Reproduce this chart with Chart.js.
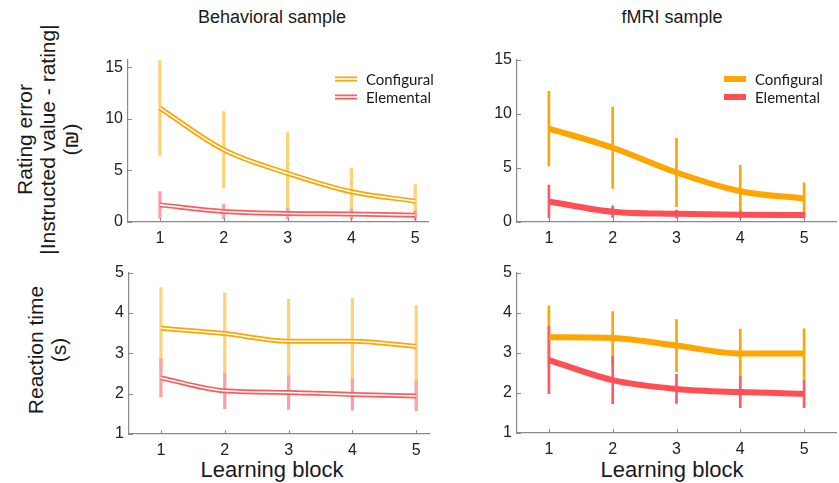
<!DOCTYPE html>
<html><head><meta charset="utf-8">
<script src="https://cdn.jsdelivr.net/npm/chart.js@4.4.0/dist/chart.umd.min.js"></script>
<style>
body{margin:0;background:#fff;width:839px;height:483px;position:relative;overflow:hidden;font-family:"Liberation Sans",Arial,sans-serif;color:#1a1a1a}
canvas{position:absolute}
.t{position:absolute;white-space:nowrap;text-align:center}
.yl{position:absolute;white-space:nowrap;text-align:center;transform:rotate(-90deg);transform-origin:center center;font-size:21px;line-height:23px}
</style></head><body>
<div class="t" style="left:172px;top:7px;width:200px;font-size:18px">Behavioral sample</div>
<div class="t" style="left:572px;top:7px;width:200px;font-size:18px">fMRI sample</div>
<div class="t" style="left:172px;top:457px;width:200px;font-size:22px">Learning block</div>
<div class="t" style="left:572px;top:457px;width:200px;font-size:22px">Learning block</div>
<div class="yl" style="left:-103px;top:105px;width:300px;height:69px">Rating error<br>|Instructed value - rating|<br>(₪)</div>
<div class="yl" style="left:-103px;top:327px;width:300px;height:46px">Reaction time<br>(s)</div>
<canvas id="c1" width="355" height="207" style="left:80px;top:45px"></canvas>
<canvas id="c2" width="370" height="207" style="left:469px;top:45px"></canvas>
<canvas id="c3" width="355" height="207" style="left:80px;top:258px"></canvas>
<canvas id="c4" width="370" height="207" style="left:469px;top:258px"></canvas>
<script>
// ---- data ----
const blocks = [1, 2, 3, 4, 5];
const seriesNames = ["Configural", "Elemental"];
const ratingTicks = [0, 5, 10, 15];
const rtTicks = [1, 2, 3, 4, 5];

const behavRatingConfMean = [11.05, 7.0, 4.72, 2.93, 2.02];
const behavRatingConfErr  = [4.6, 3.7, 3.95, 2.3, 1.6];
const behavRatingElemMean = [1.66, 1.02, 0.83, 0.78, 0.66];
const behavRatingElemErr  = [1.3, 0.7, 0.5, 0.5, 0.45];

const fmriRatingConfMean = [8.63, 6.86, 4.57, 2.84, 2.16];
const fmriRatingConfErr  = [3.45, 3.75, 3.15, 2.4, 1.45];
const fmriRatingElemMean = [1.9, 0.95, 0.76, 0.67, 0.64];
const fmriRatingElemErr  = [1.5, 0.55, 0.35, 0.33, 0.28];

const behavRtConfMean = [3.62, 3.49, 3.30, 3.30, 3.17];
const behavRtConfErr  = [1.01, 1.0, 1.04, 1.06, 1.01];
const behavRtElemMean = [2.39, 2.07, 2.03, 1.98, 1.94];
const behavRtElemErr  = [0.48, 0.44, 0.42, 0.39, 0.37];

const fmriRtConfMean = [3.39, 3.37, 3.18, 2.98, 2.98];
const fmriRtConfErr  = [0.78, 0.66, 0.65, 0.61, 0.62];
const fmriRtElemMean = [2.82, 2.32, 2.10, 2.02, 1.98];
const fmriRtElemErr  = [0.84, 0.59, 0.36, 0.39, 0.35];

// ---- styles ----
const FONT = '"Liberation Sans", Arial, sans-serif';
const ORANGE = '#FFA500';
const RED_B = '#FF5A5A';
const RED_F = '#FF4F55';
const styleB = {conf:{line:ORANGE, err:'#FFD27A', w:5, double:true, ew:2.6},
                elem:{line:RED_B, err:'#FFA0A4', w:5, double:true, ew:2.6}};
const styleF = {conf:{line:ORANGE, err:ORANGE, w:6, double:false, ew:2},
                elem:{line:RED_F, err:'#FF5A60', w:6, double:false, ew:2}};

function lineData(mean){ return blocks.map((b,i)=>({x:b, y:mean[i]})); }
function errData(mean, err){ return blocks.map((b,i)=>({x:b, y:[mean[i]-err[i], mean[i]+err[i]]})); }

function buildDatasets(confMean, confErr, elemMean, elemErr, st){
  const ds = [];
  let order = 0;
  const lineDs = (data, color, w) => ({type:'line', data, borderColor:color, borderWidth:w,
      pointRadius:0, fill:false, cubicInterpolationMode:'monotone', order: order++});
  if (st.conf.double) ds.push(lineDs(lineData(confMean), '#ffffff', 1.6));
  ds.push(Object.assign(lineDs(lineData(confMean), st.conf.line, st.conf.w), {label:seriesNames[0]}));
  if (st.elem.double) ds.push(lineDs(lineData(elemMean), '#ffffff', 1.6));
  ds.push(Object.assign(lineDs(lineData(elemMean), st.elem.line, st.elem.w), {label:seriesNames[1]}));
  ds.push({type:'bar', data:errData(elemMean, elemErr), backgroundColor:st.elem.err, barThickness:st.elem.ew,
      grouped:false, borderWidth:0, order: order++});
  ds.push({type:'bar', data:errData(confMean, confErr), backgroundColor:st.conf.err, barThickness:st.conf.ew,
      grouped:false, borderWidth:0, order: order++});
  return ds;
}

const inTicks = {
  id:'inTicks',
  afterDraw(chart){
    const ctx = chart.ctx, xs = chart.scales.x, ys = chart.scales.y;
    ctx.save(); ctx.strokeStyle = '#8a8a8a'; ctx.lineWidth = 1;
    xs.ticks.forEach(t=>{ const p = Math.round(xs.getPixelForValue(t.value))+0.5;
      ctx.beginPath(); ctx.moveTo(p, xs.top); ctx.lineTo(p, xs.top-4); ctx.stroke(); });
    ys.ticks.forEach(t=>{ const p = Math.round(ys.getPixelForValue(t.value))+0.5;
      ctx.beginPath(); ctx.moveTo(ys.right, p); ctx.lineTo(ys.right+4, p); ctx.stroke(); });
    ctx.restore();
  }
};

const customLegend = {
  id:'customLegend',
  afterDraw(chart, args, opts){
    if (!opts.show) return;
    const ctx = chart.ctx;
    ctx.save();
    opts.items.forEach((it, i)=>{
      const y = opts.y + i*opts.gap;
      ctx.lineCap = 'butt';
      ctx.strokeStyle = it.color; ctx.lineWidth = it.w;
      ctx.beginPath(); ctx.moveTo(opts.x, y); ctx.lineTo(opts.x+22, y); ctx.stroke();
      if (it.double){ ctx.strokeStyle = '#fff'; ctx.lineWidth = 1.6;
        ctx.beginPath(); ctx.moveTo(opts.x-1, y); ctx.lineTo(opts.x+23, y); ctx.stroke(); }
      ctx.fillStyle = '#1a1a1a'; ctx.font = '15px Lato, "Open Sans", sans-serif';
      ctx.textBaseline = 'middle'; ctx.textAlign = 'left';
      ctx.fillText(it.label, opts.x+31, y+1);
    });
    ctx.restore();
  }
};

function makeChart(id, datasets, cfg){
  new Chart(document.getElementById(id), {
    type:'bar',
    data:{datasets},
    plugins:[inTicks, customLegend],
    options:{
      responsive:false, animation:false, events:[],
      layout:{padding:{top:12, right:cfg.padRight, left:0, bottom:0}},
      plugins:{legend:{display:false}, tooltip:{enabled:false},
        customLegend:cfg.legend},
      scales:{
        x:{type:'linear', min:0.5, max:cfg.xMax, offset:false,
           afterBuildTicks:s=>{ s.ticks = blocks.map(v=>({value:v})); },
           afterFit:s=>{ s.height = cfg.xH; },
           grid:{display:false, drawTicks:false}, border:{display:true, color:'#8a8a8a', width:1.2},
           ticks:{font:{size:16, family:FONT}, color:'#222', padding:7, maxRotation:0}},
        y:{type:'linear', min:cfg.yMin, max:cfg.yMax,
           afterBuildTicks:s=>{ s.ticks = cfg.yTicks.map(v=>({value:v})); },
           afterFit:s=>{ s.width = cfg.yW; },
           grid:{display:false, drawTicks:false}, border:{display:true, color:'#8a8a8a', width:1.2},
           ticks:{font:{size:16, family:FONT}, color:'#222', padding:5}}
      }
    }
  });
}

const legB = {show:true, x:255, y:34, gap:18, items:[
  {label:seriesNames[0], color:ORANGE, w:5, double:true},
  {label:seriesNames[1], color:RED_B, w:5, double:true}]};
const legF = {show:true, x:255, y:34, gap:18, items:[
  {label:seriesNames[0], color:ORANGE, w:6, double:false},
  {label:seriesNames[1], color:RED_F, w:6, double:false}]};

makeChart('c1', buildDatasets(behavRatingConfMean, behavRatingConfErr, behavRatingElemMean, behavRatingElemErr, styleB),
  {padRight:7, xMax:5.2, xH:30, yW:48, yMin:0, yMax:15.75, yTicks:ratingTicks, legend:legB});
makeChart('c2', buildDatasets(fmriRatingConfMean, fmriRatingConfErr, fmriRatingElemMean, fmriRatingElemErr, styleF),
  {padRight:3, xMax:5.5, xH:30, yW:48, yMin:0, yMax:15, yTicks:ratingTicks, legend:legF});
makeChart('c3', buildDatasets(behavRtConfMean, behavRtConfErr, behavRtElemMean, behavRtElemErr, styleB),
  {padRight:6, xMax:5.2, xH:31, yW:49, yMin:1, yMax:5, yTicks:rtTicks, legend:{show:false}});
makeChart('c4', buildDatasets(fmriRtConfMean, fmriRtConfErr, fmriRtElemMean, fmriRtElemErr, styleF),
  {padRight:3, xMax:5.5, xH:32, yW:48, yMin:1, yMax:5, yTicks:rtTicks, legend:{show:false}});
</script>
</body></html>
